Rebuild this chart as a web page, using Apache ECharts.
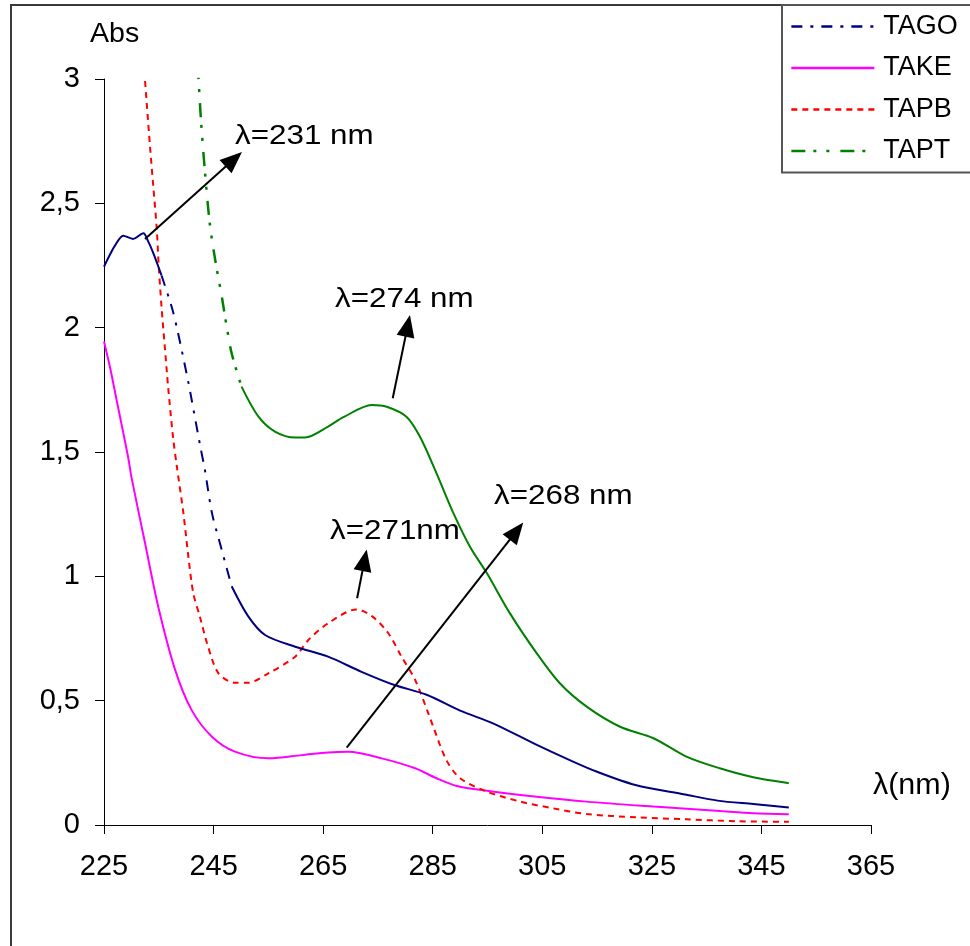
<!DOCTYPE html>
<html>
<head>
<meta charset="utf-8">
<script src="https://cdn.jsdelivr.net/npm/echarts@6/dist/echarts.min.js"></script>
<style>html,body{margin:0;padding:0;background:#fff}#c{width:970px;height:946px}</style>
</head>
<body>
<div id="c"></div>
<script>
// ---- data ----
const seriesNames = ['TAGO', 'TAKE', 'TAPB', 'TAPT'];
const xTicks = [225, 245, 265, 285, 305, 325, 345, 365];
const yTicks = [0, 0.5, 1, 1.5, 2, 2.5, 3];

const tagoX = [225, 226, 227, 228.5, 230.3, 232.2, 233, 234, 235.5, 237.4, 238.5, 240.4, 241, 242.6, 243.4, 244.7, 246.2, 248.3, 251.3, 254.4, 259.9, 265.9, 272, 278, 284, 290, 296, 304, 310, 315, 322, 331, 337, 343.5, 350];
const tagoY = [2.245, 2.29, 2.33, 2.37, 2.357, 2.38, 2.35, 2.30, 2.21, 2.08, 1.98, 1.78, 1.71, 1.52, 1.43, 1.255, 1.13, 0.96, 0.84, 0.764, 0.717, 0.677, 0.616, 0.563, 0.523, 0.46, 0.409, 0.322, 0.261, 0.214, 0.161, 0.123, 0.098, 0.084, 0.07];

const takeX = [225, 226.2, 227.3, 229.4, 230, 232.5, 234.9, 238, 241, 244.7, 248.9, 255, 261.1, 265.9, 269.6, 275.7, 281.8, 285.7, 289.4, 294.9, 304, 313.1, 325.3, 337.4, 343.5, 350];
const takeY = [1.944, 1.83, 1.709, 1.48, 1.40, 1.133, 0.878, 0.623, 0.462, 0.355, 0.295, 0.268, 0.281, 0.292, 0.295, 0.268, 0.228, 0.188, 0.157, 0.138, 0.114, 0.094, 0.074, 0.056, 0.047, 0.043];

const tapbX = [232.2, 232.8, 233.4, 234, 234.6, 235, 235.5, 236.1, 236.7, 237.6, 238.3, 239.5, 240.4, 241.3, 242.5, 244, 245.9, 248.9, 251.3, 255, 259.9, 262.3, 265.9, 271.1, 273.9, 276.9, 279.3, 281.8, 284.2, 285.1, 287.5, 290, 294.9, 301, 307, 313.1, 322.2, 331.3, 340.5, 350];
const tapbY = [3.08, 2.902, 2.728, 2.567, 2.406, 2.245, 2.084, 1.923, 1.763, 1.56, 1.441, 1.253, 1.079, 0.932, 0.838, 0.717, 0.610, 0.572, 0.572, 0.610, 0.677, 0.744, 0.811, 0.867, 0.840, 0.771, 0.677, 0.583, 0.449, 0.395, 0.261, 0.188, 0.134, 0.094, 0.067, 0.044, 0.031, 0.023, 0.015, 0.013];

const taptX = [242, 242.7, 243.4, 244.3, 245.3, 246.4, 247.4, 248.3, 250.1, 253.2, 256.2, 259.9, 261.7, 265.9, 268.7, 273.9, 276.6, 280.2, 282.7, 285.7, 288.8, 291.8, 294.9, 299.1, 304, 308.2, 313.1, 319.2, 325.3, 331.3, 337.4, 343.5, 350];
const taptY = [3.1, 2.835, 2.634, 2.42, 2.272, 2.138, 2.004, 1.897, 1.763, 1.642, 1.582, 1.558, 1.558, 1.602, 1.64, 1.689, 1.682, 1.642, 1.56, 1.414, 1.253, 1.119, 1.012, 0.851, 0.690, 0.570, 0.476, 0.395, 0.349, 0.275, 0.228, 0.192, 0.168];

// annotation arrows: [startX, startY, headX, headY]
const arrowCoords = [
  [232.48, 2.357, 248.69, 2.677],
  [277.7, 1.716, 280.44, 2.0075],
  [271.2, 0.912, 272.56, 1.065],
  [269.3, 0.311, 300.29, 1.182]
];
const annotationTexts = ['λ=231 nm', 'λ=274 nm', 'λ=271nm', 'λ=268 nm'];

// ---- build ----
const FONT = 'Liberation Sans, Arial, sans-serif';
const colors = {TAGO: '#000080', TAKE: '#FF00FF', TAPB: '#FF0000', TAPT: '#008000'};
const dashes = {
  TAGO: [11, 8, 3, 8],
  TAPB: [6, 5],
  TAPT: [14, 8, 3, 10, 3, 11]
};
function pairs(xs, ys) { return xs.map((x, i) => [x, ys[i]]); }
function range(xs, ys, lo, hi) {
  return pairs(xs, ys).filter(p => p[0] >= lo && p[0] <= hi);
}
function lineSeries(name, data, color, type, width, z) {
  return {
    name: name, type: 'line', data: data, symbol: 'none', showSymbol: false,
    smooth: 0.3, clip: true, silent: true, z: z || 2,
    lineStyle: {color: color, width: width, type: type},
    itemStyle: {color: color}
  };
}
const tagoSplitA = 235.5, tagoSplitB = 248.3, taptSplit = 250.1;

const series = [
  lineSeries('TAGO', range(tagoX, tagoY, tagoSplitA, tagoSplitB), colors.TAGO, dashes.TAGO, 2),
  lineSeries('TAKE', pairs(takeX, takeY), colors.TAKE, 'solid', 2),
  lineSeries('TAPB', pairs(tapbX, tapbY), colors.TAPB, dashes.TAPB, 2),
  lineSeries('TAPT', range(taptX, taptY, 0, taptSplit), colors.TAPT, dashes.TAPT, 2.5),
  lineSeries('TAGO-a', range(tagoX, tagoY, 0, tagoSplitA), colors.TAGO, 'solid', 2),
  lineSeries('TAGO-b', range(tagoX, tagoY, tagoSplitB, 999), colors.TAGO, 'solid', 2),
  lineSeries('TAPT-b', range(taptX, taptY, taptSplit, 999), colors.TAPT, 'solid', 2)
];
// arrows as a markLine (data coordinates)
series[1].markLine = {
  silent: true, animation: false,
  symbol: ['none', 'triangle'], symbolSize: [18, 22],
  label: {show: false},
  lineStyle: {color: '#000', width: 2, type: 'solid'},
  itemStyle: {color: '#000'},
  data: arrowCoords.map(a => [
    {coord: [a[0], a[1]], symbol: 'none'},
    {coord: [a[2], a[3]]}
  ])
};

const textPos = [[235, 137], [335, 300], [330, 532], [494, 497]];
const graphics = [
  {type: 'rect', z: -10, shape: {x: 11, y: 5, width: 1200, height: 1200},
   style: {fill: null, stroke: '#3a3a3a', lineWidth: 2}}
];
annotationTexts.forEach((t, i) => {
  graphics.push({type: 'text', x: textPos[i][0], y: textPos[i][1] - 15, scaleX: 1.12, z: 50,
    style: {text: t, font: '28px ' + FONT, fill: '#000'}});
});
graphics.push({type: 'text', x: 90, y: 21, scaleX: 1.06, style: {text: 'Abs', font: '27px ' + FONT, fill: '#000'}});
graphics.push({type: 'text', x: 873, y: 771, scaleX: 1.05, style: {text: 'λ(nm)', font: '29px ' + FONT, fill: '#000'}});

const option = {
  animation: false,
  backgroundColor: '#fff',
  grid: {left: 104, right: 99, top: 79, bottom: 121, containLabel: false},
  xAxis: {
    type: 'value', min: xTicks[0], max: xTicks[xTicks.length - 1], interval: 20,
    axisLine: {show: true, onZero: false, lineStyle: {color: '#000', width: 1}},
    axisTick: {show: true, inside: false, length: 9, lineStyle: {color: '#000'}},
    axisLabel: {color: '#000', fontSize: 29, fontFamily: FONT, margin: 27},
    splitLine: {show: false}
  },
  yAxis: {
    type: 'value', min: yTicks[0], max: yTicks[yTicks.length - 1], interval: 0.5,
    axisLine: {show: true, onZero: false, lineStyle: {color: '#000', width: 1}},
    axisTick: {show: true, inside: false, length: 9, lineStyle: {color: '#000'}},
    axisLabel: {color: '#000', fontSize: 29, fontFamily: FONT, margin: 24,
      formatter: v => String(v).replace('.', ',')},
    splitLine: {show: false}
  },
  legend: {
    data: seriesNames, orient: 'vertical', left: 782, top: 5,
    padding: [8, 40, 8, 8], itemGap: 14.5, itemWidth: 83, itemHeight: 16,
    backgroundColor: '#fff', borderColor: '#555', borderWidth: 2,
    itemStyle: {opacity: 0},
    lineStyle: {width: 2.7},
    textStyle: {color: '#000', fontSize: 27, fontFamily: FONT, lineHeight: 26, padding: [0, 0, 0, 4]},
    selectedMode: false
  },
  graphic: graphics,
  series: series
};
const chart = echarts.init(document.getElementById('c'), null, {renderer: 'canvas'});
chart.setOption(option);
</script>
</body>
</html>
